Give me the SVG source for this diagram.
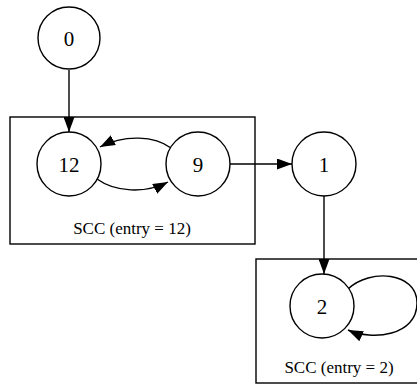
<svg xmlns="http://www.w3.org/2000/svg" width="417" height="386" viewBox="0 0 417 386">
<defs>
<style>
.node circle{fill:#fff;stroke:#000;stroke-width:1.4}
.node text{font-family:"Liberation Serif",serif;font-size:21px;text-anchor:middle;fill:#000}
.cluster rect{fill:none;stroke:#000;stroke-width:1.4}
.cluster text{font-family:"Liberation Serif",serif;font-size:17px;text-anchor:middle;fill:#000}
.edges path{fill:none;stroke:#000;stroke-width:1.4}
</style>
<marker id="ah" viewBox="0 0 15 11" refX="15" refY="5.5" markerWidth="15" markerHeight="11" markerUnits="userSpaceOnUse" orient="auto">
<path d="M0,0 L15,5.5 L0,11 Z" fill="#000"/>
</marker>
</defs>
<rect width="417" height="386" fill="#fff"/>
<g id="cluster1" class="cluster">
<rect x="10" y="117" width="245" height="127"/>
<text x="132" y="234">SCC (entry = 12)</text>
</g>
<g id="cluster2" class="cluster">
<rect x="256" y="259" width="164" height="124"/>
<text x="339" y="373">SCC (entry = 2)</text>
</g>
<g class="edges" id="edges">
<path d="M69,70 L69,132" marker-end="url(#ah)"/>
<path d="M97,179 C115,192 145,194 168,182" marker-end="url(#ah)"/>
<path d="M171,148 C155,136 125,134 100,147" marker-end="url(#ah)"/>
<path d="M230,164 L292,164" marker-end="url(#ah)"/>
<path d="M324,196 L324,274" marker-end="url(#ah)"/>
<path d="M348,289 C370,268 417,272 417,303 C417,336 372,341 348,330" marker-end="url(#ah)"/>
</g>
<g id="n0" class="node"><circle cx="69" cy="38" r="31"/><text x="69" y="45.5">0</text></g>
<g id="n12" class="node"><circle cx="69" cy="164" r="32"/><text x="69" y="171.5">12</text></g>
<g id="n9" class="node"><circle cx="198" cy="164" r="32"/><text x="198" y="171.5">9</text></g>
<g id="n1" class="node"><circle cx="324" cy="164" r="32"/><text x="324" y="171.5">1</text></g>
<g id="n2" class="node"><circle cx="322" cy="306" r="32"/><text x="322" y="313.5">2</text></g>
</svg>
